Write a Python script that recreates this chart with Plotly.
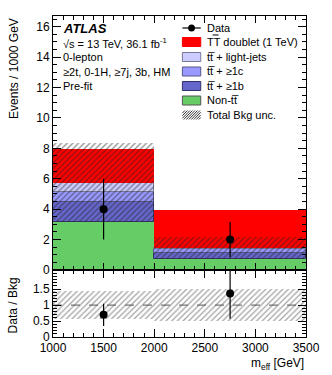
import plotly.graph_objects as go

# ---------------- data ----------------
bin_edges = [1000, 2000, 3500]
bin_centers = [1500, 2750]
bin_widths = [1000, 1500]

non_tt = [3.18, 0.74]
tt_1b = [1.29, 0.40]
tt_1c = [0.66, 0.22]
tt_light = [0.61, 0.11]
signal_TT = [2.20, 2.48]
bkg_unc = [2.58, 0.73]

data_x = [1500, 2750]
data_y = [4.0, 2.0]
data_err = [2.0, 1.155]

x_ticks = [1000, 1500, 2000, 2500, 3000, 3500]
y_ticks = [0, 2, 4, 6, 8, 10, 12, 14, 16]
ratio_ticks = [0, 0.5, 1, 1.5]

# ---------------- derived ----------------
stack = [("Non-tt", non_tt, "#66cc66", "rgba(0,0,0,0)"),
         ("tt+>=1b", tt_1b, "#6666cc", "#333366"),
         ("tt+>=1c", tt_1c, "#9999ff", "#555588"),
         ("tt+light", tt_light, "#ccccff", "#777799"),
         ("TT", signal_TT, "#ff0000", "rgba(0,0,0,0)")]

fig = go.Figure()
base = [0.0, 0.0]
for name, vals, col, lcol in stack:
    fig.add_trace(go.Bar(x=bin_centers, y=vals, base=list(base), width=bin_widths,
                         marker=dict(color=col, line=dict(color=lcol, width=1 if lcol[0] == "#" else 0)),
                         showlegend=False, xaxis="x", yaxis="y"))
    base = [b + v for b, v in zip(base, vals)]

total_bkg = [a + b + c + d for a, b, c, d in zip(non_tt, tt_1b, tt_1c, tt_light)]
pattern = dict(shape="/", fgcolor="#222222", bgcolor="rgba(0,0,0,0)", size=4, solidity=0.33)
fig.add_trace(go.Bar(x=bin_centers, y=[2 * u for u in bkg_unc],
                     base=[t - u for t, u in zip(total_bkg, bkg_unc)], width=bin_widths,
                     marker=dict(color="rgba(0,0,0,0)", line=dict(width=0), pattern=pattern),
                     showlegend=False, xaxis="x", yaxis="y"))

fig.add_trace(go.Scatter(x=data_x, y=data_y, mode="markers",
                         marker=dict(color="black", size=8),
                         error_y=dict(type="data", array=data_err, width=0, thickness=1.2, color="black"),
                         showlegend=False, xaxis="x", yaxis="y"))

# ratio panel
rel_unc = [u / t for u, t in zip(bkg_unc, total_bkg)]
pattern2 = dict(shape="/", fgcolor="#444444", bgcolor="rgba(0,0,0,0)", size=4, solidity=0.3)
fig.add_trace(go.Bar(x=bin_centers, y=[2 * r for r in rel_unc],
                     base=[1 - r for r in rel_unc], width=bin_widths,
                     marker=dict(color="rgba(0,0,0,0)", line=dict(width=0), pattern=pattern2),
                     showlegend=False, xaxis="x2", yaxis="y2"))
ratio = [d / t for d, t in zip(data_y, total_bkg)]
ratio_err = [e / t for e, t in zip(data_err, total_bkg)]
fig.add_trace(go.Scatter(x=[bin_edges[0], bin_edges[-1]], y=[1, 1], mode="lines",
                         line=dict(color="#555555", width=1, dash="dash"),
                         showlegend=False, xaxis="x2", yaxis="y2", hoverinfo="skip"))
fig.add_trace(go.Scatter(x=data_x, y=ratio, mode="markers",
                         marker=dict(color="black", size=8),
                         error_y=dict(type="data", array=ratio_err, width=0, thickness=1.2, color="black"),
                         showlegend=False, xaxis="x2", yaxis="y2"))

# ---------------- layout ----------------
W, H = 332, 375
L, R, T, B = 53, 17, 16, 38
PY_SPLIT = 270
plot_h = H - T - B
split = (H - B - PY_SPLIT) / plot_h
FONT = "Liberation Sans, Arial, sans-serif"

axis_common = dict(showline=True, linecolor="black", linewidth=1, mirror="allticks",
                   ticks="inside", tickcolor="black", zeroline=False, showgrid=False,
                   tickfont=dict(size=12, color="black", family=FONT))

fig.update_layout(
    width=W, height=H, margin=dict(l=L, r=R, t=T, b=B),
    paper_bgcolor="white", plot_bgcolor="white", barmode="overlay", bargap=0,
    font=dict(family=FONT, color="black"),
    xaxis=dict(domain=[0, 1], anchor="y", range=[1000, 3500], matches="x2",
               showticklabels=False, tickvals=x_ticks, ticklen=7,
               minor=dict(dtick=100, ticklen=4, ticks="inside", tickcolor="black"), **axis_common),
    yaxis=dict(domain=[split, 1], anchor="x", range=[0, 16.7], tickvals=y_ticks, ticklen=8,
               minor=dict(dtick=0.5, ticklen=4, ticks="inside", tickcolor="black"), **axis_common),
    xaxis2=dict(domain=[0, 1], anchor="y2", range=[1000, 3500], tickvals=x_ticks, ticklen=8,
                minor=dict(dtick=100, ticklen=4, ticks="inside", tickcolor="black"), **axis_common),
    yaxis2=dict(domain=[0, split], anchor="x2", range=[0, 2.1], tickvals=ratio_ticks, ticklen=8,
                minor=dict(dtick=0.1, ticklen=4, ticks="inside", tickcolor="black"), **axis_common),
)

def mx(px):
    return (px - L) / (W - L - R)

def my(py):
    return (PY_SPLIT - py) / (PY_SPLIT - T)

ann = []
def text(px, py, s, size=11, xanchor="left", **kw):
    ann.append(dict(x=mx(px), y=my(py), xref="x domain", yref="y domain", text=s, showarrow=False,
                    xanchor=xanchor, yanchor="middle", font=dict(size=size, family=FONT, color="black"), **kw))

text(61, 28, "<b><i>ATLAS</i></b>", size=13)
text(61, 42.5, "√s = 13 TeV, 36.1 fb<sup>-1</sup>")
text(61, 57, "0-lepton")
text(61, 72, "≥2t, 0-1H, ≥7j, 3b, HM")
text(61, 86.5, "Pre-fit")

shapes = []
rows = [28, 42, 57, 71.5, 86, 100.5, 115]
labels = ["Data", "TT doublet (1 TeV)", "tt\u0305 + light-jets", "tt\u0305 + ≥1c",
          "tt\u0305 + ≥1b", "Non-tt\u0305", "Total Bkg unc."]
bx0, bx1, bh = 187, 206, 4.5
box_styles = [None, ("#ff0000", "#ff0000"), ("#ccccff", "#777799"), ("#9999ff", "#555588"),
              ("#6666cc", "#333366"), ("#66cc66", "#555555")]
for i, (py, lab) in enumerate(zip(rows, labels)):
    text(210, py, lab)
    if i == 0:
        shapes.append(dict(type="line", xref="x domain", yref="y domain", x0=mx(bx0), x1=mx(bx1),
                           y0=my(py), y1=my(py), line=dict(color="black", width=1.2)))
        shapes.append(dict(type="circle", xref="x domain", yref="y domain", x0=mx(196.5 - 3.5),
                           x1=mx(196.5 + 3.5), y0=my(py + 3.5), y1=my(py - 3.5),
                           fillcolor="black", line=dict(color="black", width=0)))
    elif i < 6:
        fc, lc = box_styles[i]
        shapes.append(dict(type="rect", xref="x domain", yref="y domain", x0=mx(bx0), x1=mx(bx1),
                           y0=my(py + bh), y1=my(py - bh), fillcolor=fc, line=dict(color=lc, width=1)))
    else:
        top, bot = py - bh, py + bh
        t = bx0 - 2 * bh
        while t < bx1:
            xa, ya = t, bot
            xb, yb = t + 2 * bh, top
            if xa < bx0:
                ya = bot - (bx0 - xa); xa = bx0
            if xb > bx1:
                yb = top + (xb - bx1); xb = bx1
            shapes.append(dict(type="line", xref="x domain", yref="y domain", x0=mx(xa), x1=mx(xb),
                               y0=my(ya), y1=my(yb), line=dict(color="#333333", width=1)))
            t += 2.6

# overline on the second T of "TT"
shapes.append(dict(type="line", xref="x domain", yref="y domain", x0=mx(218.3), x1=mx(224.5),
                   y0=my(35.0), y1=my(35.0), line=dict(color="black", width=1)))

# axis titles
ann.append(dict(x=(12 - L) / (W - L - R), y=1.0, xref="paper", yref="paper", text="Events / 1000 GeV",
                showarrow=False, textangle=-90, xanchor="center", yanchor="top",
                font=dict(size=12, family=FONT)))
ann.append(dict(x=(12 - L) / (W - L - R), y=(H - B - 305) / plot_h, xref="paper", yref="paper",
                text="Data / Bkg", showarrow=False, textangle=-90, xanchor="center", yanchor="middle",
                font=dict(size=12, family=FONT)))
ann.append(dict(x=1.0, y=(H - B - 364) / plot_h, xref="paper", yref="paper",
                text="m<sub>eff</sub> [GeV]", showarrow=False, xanchor="right", yanchor="middle",
                font=dict(size=12, family=FONT)))

fig.update_layout(annotations=ann, shapes=shapes)
fig.write_html("out.html", config={"displayModeBar": False},
               post_script="document.body.style.margin='0px';")
